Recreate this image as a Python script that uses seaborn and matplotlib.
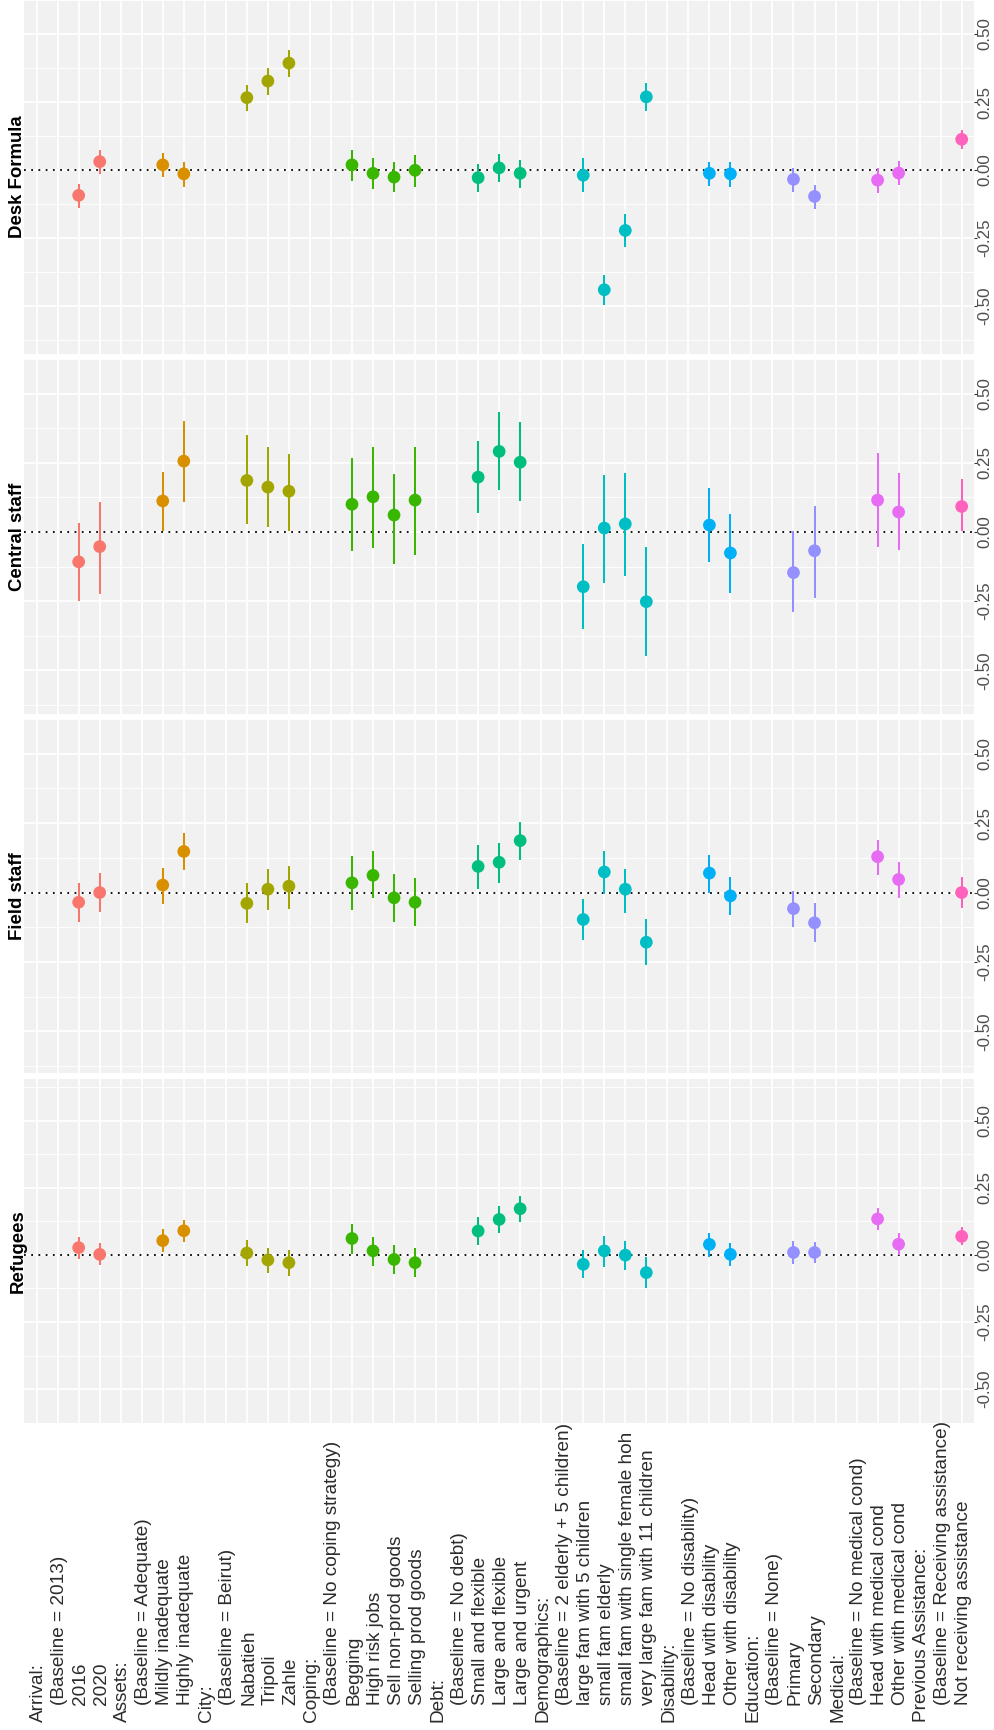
import numpy as np
import pandas as pd
import matplotlib
matplotlib.use("Agg")
import matplotlib.pyplot as plt
import matplotlib.transforms as mtransforms
import seaborn as sns

# Row labels of the coefficient table (headers end with ":")
labels = [
    "Arrival:", "(Baseline = 2013)", "2016", "2020",
    "Assets:", "(Baseline = Adequate)", "Mildly inadequate", "Highly inadequate",
    "City:", "(Baseline = Beirut)", "Nabatieh", "Tripoli", "Zahle",
    "Coping:", "(Baseline = No coping strategy)", "Begging", "High risk jobs",
    "Sell non-prod goods", "Selling prod goods",
    "Debt:", "(Baseline = No debt)", "Small and flexible", "Large and flexible",
    "Large and urgent",
    "Demographics:", "(Baseline = 2 elderly + 5 children)", "large fam with 5 children",
    "small fam elderly", "small fam with single female hoh",
    "very large fam with 11 children",
    "Disability:", "(Baseline = No disability)", "Head with disability",
    "Other with disability",
    "Education:", "(Baseline = None)", "Primary", "Secondary",
    "Medical:", "(Baseline = No medical cond)", "Head with medical cond",
    "Other with medical cond",
    "Previous Assistance:", "(Baseline = Receiving assistance)",
    "Not receiving assistance",
]

group_colors = ["#F8766D", "#D89000", "#A3A500", "#39B600", "#00BF7D",
                "#00BFC4", "#00B0F6", "#9590FF", "#E76BF3", "#FF62BC"]

value_ticks = [-0.50, -0.25, 0.00, 0.25, 0.50]
value_tick_labels = ["-0.50", "-0.25", "0.00", "0.25", "0.50"]
value_minor = [-0.625, -0.375, -0.125, 0.125, 0.375, 0.625]

# Estimates and confidence bounds, one entry per non-baseline level
desk_est = [-0.093, 0.031, 0.019, -0.014, 0.266, 0.327, 0.393, 0.019, -0.012, -0.026,
            -0.001, -0.028, 0.008, -0.012, -0.019, -0.440, -0.222, 0.269, -0.012,
            -0.014, -0.034, -0.097, -0.037, -0.011, 0.113]
desk_lo = [-0.138, -0.014, -0.026, -0.061, 0.216, 0.275, 0.342, -0.040, -0.071, -0.080,
           -0.061, -0.080, -0.044, -0.065, -0.081, -0.496, -0.283, 0.216, -0.058,
           -0.061, -0.079, -0.142, -0.083, -0.055, 0.076]
desk_hi = [-0.052, 0.074, 0.063, 0.031, 0.314, 0.375, 0.443, 0.072, 0.043, 0.030,
           0.055, 0.024, 0.059, 0.038, 0.043, -0.386, -0.161, 0.321, 0.031, 0.028,
           0.009, -0.055, 0.008, 0.033, 0.149]

central_est = [-0.108, -0.053, 0.112, 0.256, 0.186, 0.162, 0.147, 0.100, 0.127, 0.061,
               0.115, 0.198, 0.291, 0.252, -0.198, 0.014, 0.029, -0.252, 0.025, -0.076,
               -0.147, -0.068, 0.115, 0.072, 0.092]
central_lo = [-0.248, -0.225, 0.002, 0.108, 0.029, 0.018, 0.002, -0.068, -0.057, -0.115,
              -0.084, 0.068, 0.151, 0.111, -0.350, -0.186, -0.158, -0.448, -0.108,
              -0.221, -0.288, -0.237, -0.053, -0.065, 0.002]
central_hi = [0.033, 0.108, 0.217, 0.401, 0.350, 0.307, 0.280, 0.268, 0.307, 0.209,
              0.307, 0.327, 0.432, 0.397, -0.045, 0.205, 0.213, -0.053, 0.158, 0.065,
              0.002, 0.092, 0.284, 0.213, 0.190]

field_est = [-0.035, 0.000, 0.027, 0.148, -0.039, 0.012, 0.023, 0.035, 0.062, -0.019,
             -0.035, 0.094, 0.109, 0.187, -0.097, 0.074, 0.012, -0.179, 0.070, -0.012,
             -0.058, -0.109, 0.129, 0.047, 0.000]
field_lo = [-0.105, -0.070, -0.043, 0.082, -0.109, -0.062, -0.058, -0.062, -0.019, -0.105,
            -0.121, 0.012, 0.035, 0.117, -0.172, -0.004, -0.074, -0.261, 0.000, -0.082,
            -0.125, -0.179, 0.062, -0.019, -0.055]
field_hi = [0.035, 0.070, 0.090, 0.214, 0.035, 0.086, 0.097, 0.133, 0.148, 0.066,
            0.051, 0.172, 0.179, 0.253, -0.023, 0.148, 0.086, -0.097, 0.136, 0.055,
            0.004, -0.039, 0.191, 0.109, 0.055]

refugees_est = [0.027, 0.002, 0.053, 0.090, 0.007, -0.019, -0.029, 0.061, 0.015, -0.017,
                -0.029, 0.089, 0.132, 0.172, -0.035, 0.015, -0.001, -0.066, 0.039, 0.002,
                0.009, 0.009, 0.134, 0.040, 0.069]
refugees_lo = [-0.015, -0.039, 0.010, 0.047, -0.041, -0.069, -0.078, 0.005, -0.041, -0.072,
               -0.084, 0.036, 0.083, 0.124, -0.086, -0.044, -0.056, -0.123, -0.006,
               -0.040, -0.035, -0.030, 0.091, -0.002, 0.035]
refugees_hi = [0.068, 0.046, 0.096, 0.131, 0.056, 0.027, 0.017, 0.114, 0.068, 0.038,
               0.024, 0.140, 0.182, 0.221, 0.017, 0.070, 0.053, -0.009, 0.083, 0.045,
               0.050, 0.049, 0.175, 0.083, 0.103]

panel_names = ["Desk Formula", "Central staff", "Field staff", "Refugees"]

# ---- derive positions / groups for the estimated levels ----
groups, est_pos, est_group = [], [], []
current = None
for i, lab in enumerate(labels):
    if lab.endswith(":"):
        current = lab[:-1]
        groups.append(current)
    elif not lab.startswith("(Baseline"):
        est_pos.append(i)
        est_group.append(current)
palette = dict(zip(groups, group_colors))

panel_data = {
    "Desk Formula": (desk_est, desk_lo, desk_hi),
    "Central staff": (central_est, central_lo, central_hi),
    "Field staff": (field_est, field_lo, field_hi),
    "Refugees": (refugees_est, refugees_lo, refugees_hi),
}

# ---- figure ----
W, H = 995, 1730
sns.set_theme(style="darkgrid")
plt.rcParams["font.family"] = ["Liberation Sans", "DejaVu Sans"]
fig = plt.figure(figsize=(W / 100, H / 100), dpi=100)
fig.patch.set_facecolor("white")

# panel boxes in pixels: (top, bottom) and value range shown
left_px, right_px = 24, 974.3
panel_boxes = {
    "Desk Formula": (0.0, 353.7, (-0.675, 0.576)),
    "Central staff": (359.0, 714.0, (-0.658, 0.600)),
    "Field staff": (719.0, 1073.3, (-0.651, 0.601)),
    "Refugees": (1079.3, 1422.7, (-0.598, 0.654)),
}

axes = {}
for name in panel_names:
    top, bot, ylim = panel_boxes[name]
    ax = fig.add_axes([left_px / W, 1 - bot / H, (right_px - left_px) / W, (bot - top) / H])
    axes[name] = ax
    ax.set_facecolor("#F1F1F1")
    for s in ax.spines.values():
        s.set_visible(False)
    ax.set_axisbelow(True)

    est, lo, hi = panel_data[name]
    df = pd.DataFrame({"pos": est_pos, "est": est, "lo": lo, "hi": hi, "group": est_group})

    ax.axhline(0, color="black", lw=1.3, ls=(0, (1, 3)), zorder=1.5)
    ax.vlines(df["pos"], df["lo"], df["hi"], colors=[palette[g] for g in df["group"]],
              lw=1.45, zorder=2)
    sns.scatterplot(data=df, x="pos", y="est", hue="group", palette=palette, s=84,
                    linewidth=0, legend=False, ax=ax, zorder=3)

    ax.set_xlim(-0.6, len(labels) - 1 + 0.6)
    ax.set_ylim(*ylim)
    ax.set_xticks(range(len(labels)))
    ax.set_xticklabels([])
    ax.set_yticks(value_ticks)
    ax.set_yticks(value_minor, minor=True)
    ax.set_yticklabels(value_tick_labels)
    ax.set_xlabel("")
    ax.set_ylabel("")
    ax.grid(which="major", axis="both", color="white", lw=1.25)
    ax.grid(which="minor", axis="y", color="white", lw=0.65)
    ax.tick_params(axis="x", length=0, labelbottom=False)
    ax.tick_params(axis="y", which="major", left=False, labelleft=False, right=True,
                   labelright=True, length=2.0, width=0.8, color="#333333", pad=0.2,
                   labelsize=12.2, labelcolor="#4D4D4D", labelrotation=90)
    ax.tick_params(axis="y", which="minor", left=False, right=False, length=0)
    for t in ax.get_yticklabels():
        t.set_va("center")
        t.set_ha("left")

    # facet title on the left edge
    fig.text(15.8 / W, 1 - (top + bot) / 2 / H, name, rotation=90,
             rotation_mode="anchor", ha="center", va="center_baseline",
             fontsize=13.4, fontweight="bold", color="black")

# row labels under the last panel, left aligned, sub-levels indented
ax_lab = axes["Refugees"]
trans = mtransforms.blended_transform_factory(ax_lab.transData, fig.transFigure)
for i, lab in enumerate(labels):
    start_px = 1721.7 if lab.endswith(":") else 1705.0
    ax_lab.text(i, 1 - start_px / H, lab, transform=trans, rotation=90,
                rotation_mode="anchor", ha="left", va="center_baseline", fontsize=13.7,
                color="#2B2B2B", clip_on=False)

fig.savefig("out.png", dpi=100, facecolor="white")
